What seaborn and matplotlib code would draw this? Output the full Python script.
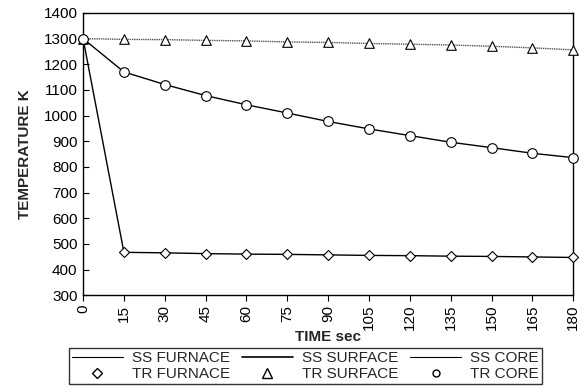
import numpy as np
import pandas as pd
import seaborn as sns
import matplotlib.pyplot as plt
from matplotlib.lines import Line2D

# Data
time_sec = [0, 15, 30, 45, 60, 75, 90, 105, 120, 135, 150, 165, 180]
furnace = [1300, 467, 465, 462, 460, 459, 457, 455, 454, 452, 451, 449, 447]
surface = [1300, 1297, 1296, 1293, 1291, 1287, 1285, 1281, 1278, 1275, 1270, 1264, 1256]
core = [1300, 1170, 1121, 1078, 1042, 1010, 977, 948, 922, 896, 875, 853, 836]

df = pd.DataFrame({'time': time_sec, 'furnace': furnace, 'surface': surface, 'core': core})

sns.set_style('ticks')
plt.rcParams['font.family'] = ['Liberation Sans', 'DejaVu Sans']

fig, ax = plt.subplots(figsize=(5.85, 3.92), dpi=100)

# steady-state lines
sns.lineplot(data=df, x='time', y='furnace', ax=ax, color='black', lw=1.0)
sns.lineplot(data=df, x='time', y='surface', ax=ax, color='#555555', lw=1.0, linestyle=(0, (1, 0.6)))
sns.lineplot(data=df, x='time', y='core', ax=ax, color='black', lw=1.0)

# transient markers
mk = dict(facecolor='white', edgecolor='black', linewidth=0.8, zorder=5, clip_on=False)
sns.scatterplot(data=df, x='time', y='furnace', ax=ax, marker='D', s=26, **mk)
sns.scatterplot(data=df, x='time', y='surface', ax=ax, marker='^', s=48, **mk)
sns.scatterplot(data=df, x='time', y='core', ax=ax, marker='o', s=48, **mk)

ax.set_xlim(0, 180)
ax.set_ylim(300, 1400)
ax.set_xticks(time_sec)
ax.set_xticklabels([str(t) for t in time_sec], rotation=90)
ax.set_yticks(np.arange(300, 1401, 100))
ax.tick_params(labelsize=11, width=0.8, colors='black')
ax.tick_params(axis='x', direction='out', length=4, pad=3)
ax.tick_params(axis='y', direction='in', length=4, pad=4)
for s in ax.spines.values():
    s.set_visible(True)
    s.set_color('black')
    s.set_linewidth(1.0)

ax.set_xlabel('TIME sec', fontsize=11, fontweight='bold', labelpad=0)
ax.set_ylabel('TEMPERATURE K', fontsize=11, fontweight='bold', labelpad=8)

handles = [
    Line2D([], [], color='black', lw=0.8),
    Line2D([], [], marker='D', ls='none', mfc='white', mec='black', ms=5),
    Line2D([], [], color='black', lw=1.2),
    Line2D([], [], marker='^', ls='none', mfc='white', mec='black', ms=7),
    Line2D([], [], color='black', lw=0.8),
    Line2D([], [], marker='o', ls='none', mfc='white', mec='black', ms=5),
]
labels = ['SS FURNACE', 'TR FURNACE', 'SS SURFACE', 'TR SURFACE', 'SS CORE', 'TR CORE']
leg = fig.legend(handles, labels, ncol=3, loc='lower center', bbox_to_anchor=(0.522, 0.0),
                 frameon=True, fancybox=False, edgecolor='black', fontsize=11,
                 handlelength=3.3, columnspacing=0.8, labelspacing=0.15,
                 borderpad=0.2, handletextpad=0.6)
leg.get_frame().set_linewidth(1.0)

fig.subplots_adjust(left=0.142, right=0.98, top=0.967, bottom=0.247)
fig.savefig('out.png', dpi=100)
